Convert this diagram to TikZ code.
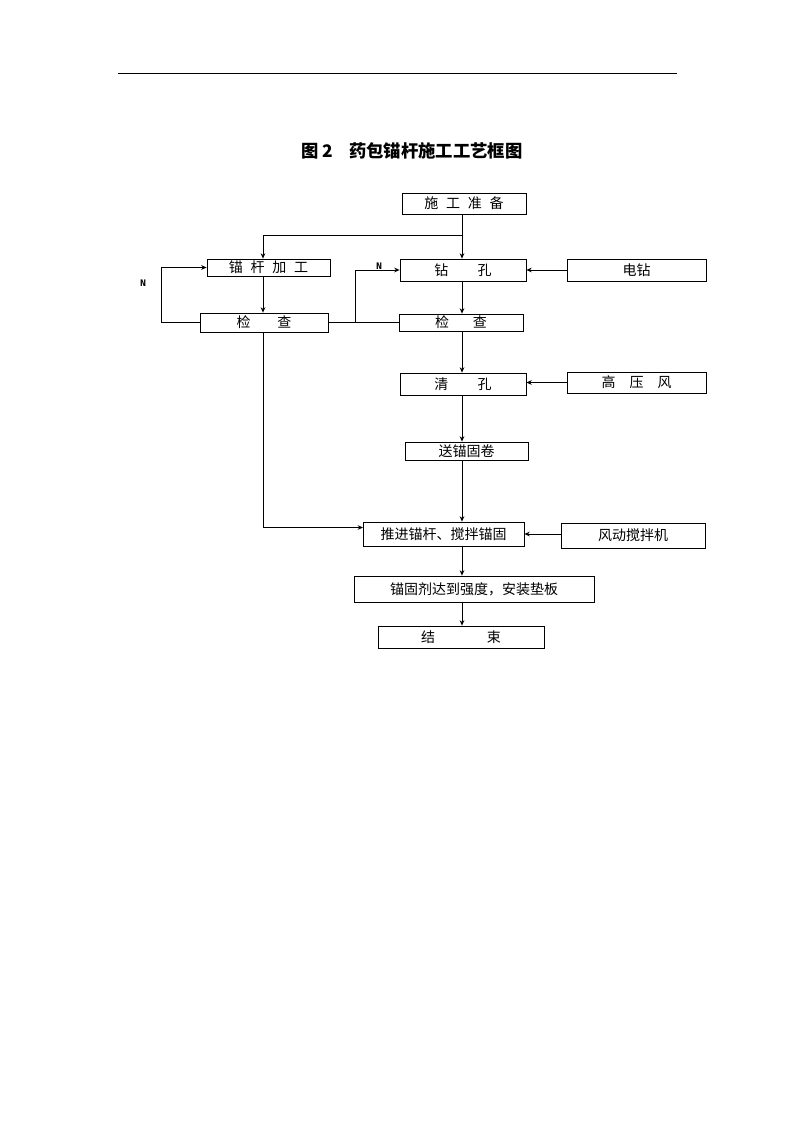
\documentclass[tikz,border=0pt]{standalone}
\usepackage{fontspec}
\newfontfamily\cjk{Noto Sans CJK SC}
\newfontfamily\nfont{Liberation Mono}
\usetikzlibrary{arrows.meta}
\begin{document}
\begin{tikzpicture}[x=0.75pt,y=-0.75pt,
  box/.style={draw,line width=0.6pt,inner sep=0pt,font=\cjk\fontsize{10.5}{12}\selectfont},
  conn/.style={line width=0.6pt},
  arr/.style={conn,-{Stealth[length=4pt,width=3.5pt]}},
  nlab/.style={font=\nfont\bfseries\fontsize{7.5}{8}\selectfont,inner sep=0.5pt}]
\path[use as bounding box] (0,0) rectangle (794,1123);
\draw[line width=0.6pt] (118,73) coordinate (r1) -- (677,73) coordinate (r2);
\node[font=\cjk\bfseries\fontsize{13}{15}\selectfont] (title) at (412,151) {图 2\hspace{0.9em}药包锚杆施工工艺框图};

\node[box,minimum width=93pt,minimum height=15.75pt] (prep) at (464,203.5) {施\hspace{0.55em}工\hspace{0.55em}准\hspace{0.55em}备};
\node[box,minimum width=92.25pt,minimum height=12.75pt] (rod) at (268.5,267.5) {锚\hspace{0.55em}杆\hspace{0.55em}加\hspace{0.55em}工};
\node[box,minimum width=94.5pt,minimum height=16.5pt] (drill) at (463,270) {钻\hspace{2.1em}孔};
\node[box,minimum width=104.25pt,minimum height=16.5pt] (edrill) at (636.5,270) {电钻};
\node[box,minimum width=96pt,minimum height=14.25pt] (chkL) at (264,322.5) {检\hspace{1.9em}查};
\node[box,minimum width=93pt,minimum height=12.75pt] (chkR) at (461,322.5) {检\hspace{1.7em}查};
\node[box,minimum width=94.5pt,minimum height=16.5pt] (clean) at (463,384) {清\hspace{2.1em}孔};
\node[box,minimum width=104.25pt,minimum height=15.75pt] (wind) at (636.5,382.5) {高\hspace{1em}压\hspace{1em}风};
\node[box,minimum width=92.25pt,minimum height=13.5pt] (roll) at (466.5,451) {送锚固卷};
\node[box,minimum width=120.75pt,minimum height=18pt] (push) at (443.5,534) {推进锚杆、搅拌锚固};
\node[box,minimum width=108pt,minimum height=18.75pt] (mixer) at (633,535.5) {风动搅拌机};
\node[box,minimum width=180pt,minimum height=19.5pt] (anchor) at (474,589) {锚固剂达到强度，安装垫板};
\node[box,minimum width=124.5pt,minimum height=16.5pt] (fin) at (461,637) {结\hspace{3.7em}束};

\coordinate (vx) at (462,0);
\coordinate (lx) at (263,0);
\coordinate (nL) at (161,0);
\coordinate (j1) at (462,235);
\coordinate (nR) at (355,322.5);
\coordinate (pin) at (363,527.5);

\draw[arr] (prep.south -| vx) -- (drill.north -| vx);
\draw[arr] (j1) -| (rod.north -| lx);
\draw[arr] (rod.south -| lx) -- (chkL.north -| lx);
\draw[arr] (chkL.west) -- (chkL.west -| nL) |- (rod.west);
\node[nlab] (N1) at (143,283) {N};
\draw[conn] (chkL.east) -- (chkR.west);
\draw[arr] (nR) |- (drill.west);
\node[nlab,fill=white] (N2) at (379,266) {N};
\draw[arr] (drill.south -| vx) -- (chkR.north -| vx);
\draw[arr] (edrill.west) -- (drill.east);
\draw[arr] (chkR.south -| vx) -- (clean.north -| vx);
\draw[arr] (wind.west) -- (clean.east |- wind.west);
\draw[arr] (clean.south -| vx) -- (roll.north -| vx);
\draw[arr] (roll.south -| vx) -- (push.north -| vx);
\draw[arr] (chkL.south -| lx) |- (pin);
\draw[arr] (mixer.west |- push.east) -- (push.east);
\draw[arr] (push.south -| vx) -- (anchor.north -| vx);
\draw[arr] (anchor.south -| vx) -- (fin.north -| vx);
\end{tikzpicture}
\end{document}
